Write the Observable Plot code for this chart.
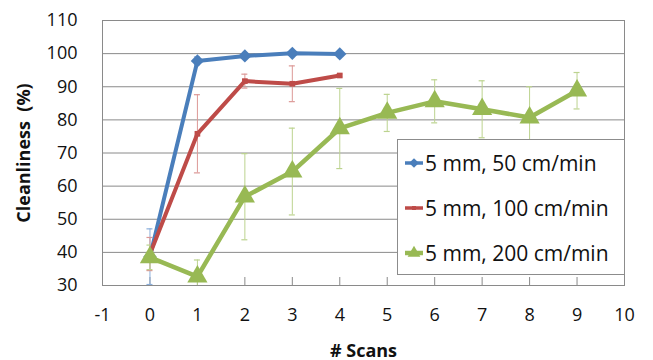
<!DOCTYPE html>
<html>
<head>
<meta charset="utf-8">
<script src="https://cdn.jsdelivr.net/npm/d3@7"></script>
<script src="https://cdn.jsdelivr.net/npm/@observablehq/plot@0.6"></script>
<style>
  body { margin: 0; background: #fff; }
  #wrap { position: relative; width: 653px; height: 360px; font-family: "Open Sans", "Noto Sans", sans-serif; }
  #wrap svg [aria-label="y-axis label"], #wrap svg [aria-label="x-axis label"] { font-weight: bold; font-size: 18px; }
  #legend { position: absolute; left: 397px; top: 139px; width: 226px; height: 134px; background: #fff;
            border: 1px solid #8c8c8c; box-sizing: content-box; }
  .row { position: absolute; left: 6px; height: 26px; display: flex; align-items: center; font-size: 21px; color: #111; white-space: nowrap; }
  .row svg { margin-right: 1px; }
</style>
</head>
<body>
<div id="wrap"></div>
<script>
// ---- data ----
const scans = [0, 1, 2, 3, 4, 5, 6, 7, 8, 9];
const xTicks = [-1, 0, 1, 2, 3, 4, 5, 6, 7, 8, 9, 10];
const yTicks = [30, 40, 50, 60, 70, 80, 90, 100, 110];
const seriesNames = ["5 mm, 50 cm/min", "5 mm, 100 cm/min", "5 mm, 200 cm/min"];
const blueVals = [38.7, 97.8, 99.3, 100.1, 99.9];
const blueErr  = [8.4, 1.2, 0.6, 0.5, 0.5];
const redVals  = [39.5, 75.8, 91.7, 90.9, 93.4];
const redErr   = [5.0, 11.8, 2.1, 5.4, 0.4];
const greenVals = [38.5, 32.7, 56.8, 64.4, 77.4, 82.1, 85.6, 83.2, 80.7, 88.8];
const greenErr  = [3.7, 5.0, 13.0, 13.1, 12.1, 5.6, 6.5, 8.6, 9.3, 5.5];

const colors = ["#4a7ebb", "#be4b48", "#98b954"];
const errColors = ["#8aaedb", "#dc9896", "#bcd38f"];
const symbols = ["diamond2", "square", "triangle"];
const symR = [6, 3.2, 7.5];

function build(vals, errs, name) {
  return vals.map((v, i) => ({x: scans[i], y: v, lo: v - errs[i], hi: v + errs[i], name}));
}
const series = [
  build(blueVals, blueErr, seriesNames[0]),
  build(redVals, redErr, seriesNames[1]),
  build(greenVals, greenErr, seriesNames[2])
];

const marks = [
  Plot.ruleY(yTicks.slice(1, -1), {stroke: "#8a8a8a", strokeWidth: 1}),
  Plot.frame({stroke: "#8a8a8a", strokeWidth: 1}),
  Plot.tickX(xTicks, {x: d => d, stroke: "#8a8a8a", insetTop: 257})
];
series.forEach((data, k) => {
  marks.push(Plot.ruleX(data, {x: "x", y1: "lo", y2: "hi", stroke: errColors[k], strokeWidth: 1, clip: true}));
  marks.push(Plot.ruleY(data, {y: "lo", x1: "x", x2: "x", insetLeft: -3, insetRight: -3, stroke: errColors[k], strokeWidth: 1.2, clip: true}));
  marks.push(Plot.ruleY(data, {y: "hi", x1: "x", x2: "x", insetLeft: -3, insetRight: -3, stroke: errColors[k], strokeWidth: 1.2, clip: true}));
});
series.forEach((data, k) => {
  marks.push(Plot.line(data, {x: "x", y: "y", stroke: colors[k], strokeWidth: k === 2 ? 4.5 : 4, strokeLinejoin: "round"}));
  marks.push(Plot.dot(data, {x: "x", y: "y", symbol: symbols[k], r: symR[k], fill: colors[k], stroke: "none"}));
});
marks.push(Plot.axisY({ticks: yTicks, tickSize: 0, tickPadding: 25, fontSize: 18,
  label: "Cleanliness  (%)", labelAnchor: "center", labelOffset: 85, labelArrow: "none"}));
marks.push(Plot.axisX({ticks: xTicks, tickSize: 0, tickPadding: 23, fontSize: 18, tickFormat: d => String(d),
  label: "# Scans", labelAnchor: "center", labelOffset: 71, labelArrow: "none"}));

const chart = Plot.plot({
  width: 653,
  height: 360,
  marginLeft: 102,
  marginRight: 29,
  marginTop: 20,
  marginBottom: 75,
  style: {fontFamily: "'Open Sans', 'Noto Sans', sans-serif", color: "#111", background: "#fff"},
  x: {domain: [-1, 10]},
  y: {domain: [30, 110]},
  marks
});
const wrap = document.getElementById("wrap");
wrap.appendChild(chart);

// legend (overlaid inside plot area, as in the reference)
const legend = document.createElement("div");
legend.id = "legend";
const rowTops = [10, 55, 100];
seriesNames.forEach((name, k) => {
  const row = document.createElement("div");
  row.className = "row";
  row.style.top = rowTops[k] + "px";
  const sw = d3.create("svg").attr("width", 20).attr("height", 20);
  sw.append("line").attr("x1", 1).attr("x2", 19).attr("y1", 10).attr("y2", 10)
    .attr("stroke", colors[k]).attr("stroke-width", k === 2 ? 4.5 : 3.5);
  sw.append("path").attr("transform", "translate(10,10)")
    .attr("d", d3.symbol(k === 0 ? d3.symbolDiamond2 : k === 1 ? d3.symbolSquare : d3.symbolTriangle, k === 0 ? 60 : k === 1 ? 16 : 70)())
    .attr("fill", colors[k]);
  row.appendChild(sw.node());
  const t = document.createElement("span");
  t.textContent = name;
  row.appendChild(t);
  legend.appendChild(row);
});
wrap.appendChild(legend);
</script>
</body>
</html>
